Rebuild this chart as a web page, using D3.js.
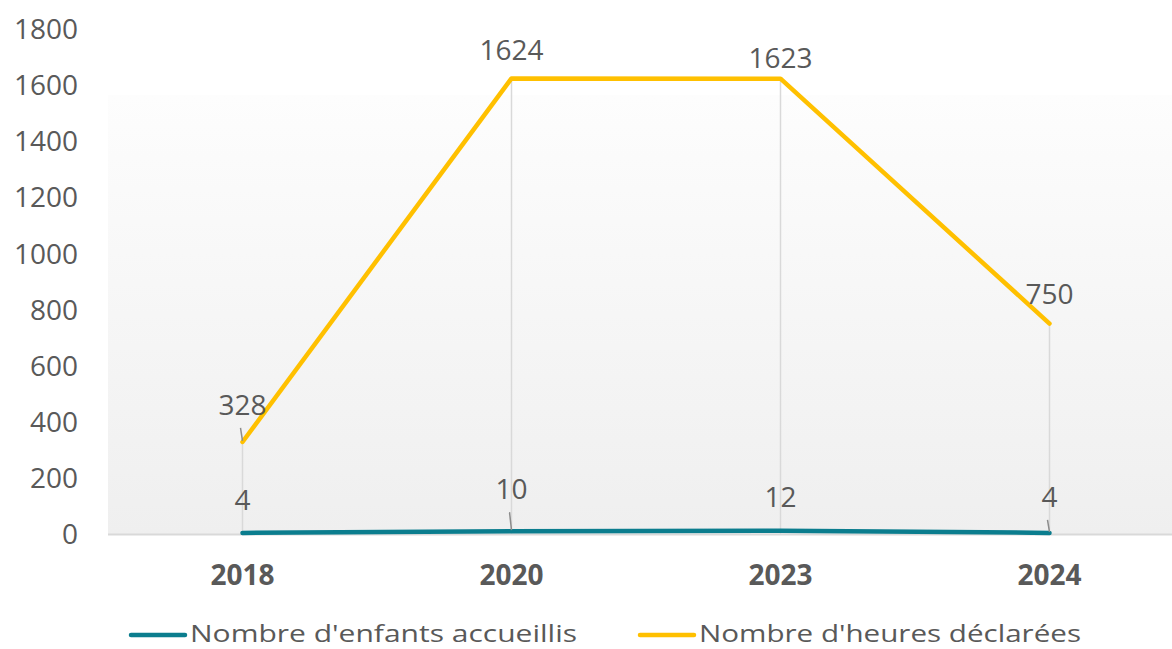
<!DOCTYPE html>
<html>
<head>
<meta charset="utf-8">
<script src="https://cdn.jsdelivr.net/npm/d3@7"></script>
<style>
  body { margin: 0; background: #fff; }
  svg text { font-family: "Open Sans", sans-serif; fill: #595959; }
</style>
</head>
<body>
<svg id="chart" width="1172" height="649"></svg>
<script>
const years = ["2018", "2020", "2023", "2024"];
const enfants = [4, 10, 12, 4];
const heures = [328, 1624, 1623, 750];
const yTicks = [0, 200, 400, 600, 800, 1000, 1200, 1400, 1600, 1800];
const seriesNames = ["Nombre d'enfants accueillis", "Nombre d'heures déclarées"];

const COLORS = { teal: "#0B7D8E", gold: "#FFC000", grid: "#d9d9d9", text: "#595959" };
// label baseline offsets (px above the point), tuned by eye
const labelDy = { enfants: [-23, -32, -24, -26], heures: [-27, -18, -11, -20] };

const svg = d3.select("#chart");
const W = 1172, plotLeft = 108, plotRight = 1184, plotTop = 29, plotBottom = 534;

const x = d3.scalePoint().domain(years).range([plotLeft, plotRight]).padding(0.5);
const y = d3.scaleLinear().domain([0, 1800]).range([plotBottom, plotTop]);

// plot background gradient
const grad = svg.append("defs").append("linearGradient")
    .attr("id", "bg").attr("x1", 0).attr("y1", 0).attr("x2", 0).attr("y2", 1);
grad.append("stop").attr("offset", "0%").attr("stop-color", "#fdfdfd");
grad.append("stop").attr("offset", "100%").attr("stop-color", "#efefef");

svg.append("rect")
    .attr("x", plotLeft).attr("y", 95)
    .attr("width", W - plotLeft).attr("height", plotBottom - 95)
    .attr("fill", "url(#bg)");

// y tick labels
svg.append("g").selectAll("text")
    .data(yTicks)
    .join("text")
    .attr("x", 78)
    .attr("y", d => y(d))
    .attr("dy", "0.36em")
    .attr("text-anchor", "end")
    .attr("font-size", 28)
    .text(d => d);

// drop lines
svg.append("g").selectAll("line")
    .data(years)
    .join("line")
    .attr("x1", d => x(d)).attr("x2", d => x(d))
    .attr("y1", (d, i) => y(Math.max(heures[i], enfants[i])))
    .attr("y2", plotBottom)
    .attr("stroke", COLORS.grid)
    .attr("stroke-width", 1.5);

// x axis line
svg.append("line")
    .attr("x1", plotLeft).attr("x2", W)
    .attr("y1", plotBottom + 0.5).attr("y2", plotBottom + 0.5)
    .attr("stroke", COLORS.grid)
    .attr("stroke-width", 2);

// x labels
svg.append("g").selectAll("text")
    .data(years)
    .join("text")
    .attr("x", d => x(d))
    .attr("y", 585)
    .attr("text-anchor", "middle")
    .attr("font-size", 28)
    .attr("font-weight", "bold")
    .text(d => d);

const line = d3.line().x((d, i) => x(years[i])).y(d => y(d));

function drawSeries(values, color, dys) {
    svg.append("path")
        .datum(values)
        .attr("d", line)
        .attr("fill", "none")
        .attr("stroke", color)
        .attr("stroke-width", 4.5)
        .attr("stroke-linejoin", "round")
        .attr("stroke-linecap", "round");

    const g = svg.append("g");
    values.forEach((v, i) => {
        const px = x(years[i]), py = y(v);
        if (dys[i] < -25) {
            g.append("line")
                .attr("x1", px - 2).attr("y1", py + dys[i] + 13)
                .attr("x2", px).attr("y2", py - 1)
                .attr("stroke", "#8c8c8c")
                .attr("stroke-width", 1.5);
        }
        g.append("text")
            .attr("x", px)
            .attr("y", py + dys[i])
            .attr("text-anchor", "middle")
            .attr("font-size", 28)
            .text(v);
    });
}

drawSeries(heures, COLORS.gold, labelDy.heures);
drawSeries(enfants, COLORS.teal, labelDy.enfants);

// legend
const legend = [
    { name: seriesNames[0], color: COLORS.teal, x: 131, len: 387 },
    { name: seriesNames[1], color: COLORS.gold, x: 640, len: 382 }
];
const lg = svg.append("g").selectAll("g").data(legend).join("g");
lg.append("line")
    .attr("x1", d => d.x).attr("x2", d => d.x + 54)
    .attr("y1", 635).attr("y2", 635)
    .attr("stroke", d => d.color)
    .attr("stroke-width", 4.5)
    .attr("stroke-linecap", "round");
lg.append("text")
    .attr("x", d => d.x + 59)
    .attr("y", 642)
    .attr("font-size", 24)
    .attr("textLength", d => d.len)
    .attr("lengthAdjust", "spacingAndGlyphs")
    .text(d => d.name);
</script>
</body>
</html>
